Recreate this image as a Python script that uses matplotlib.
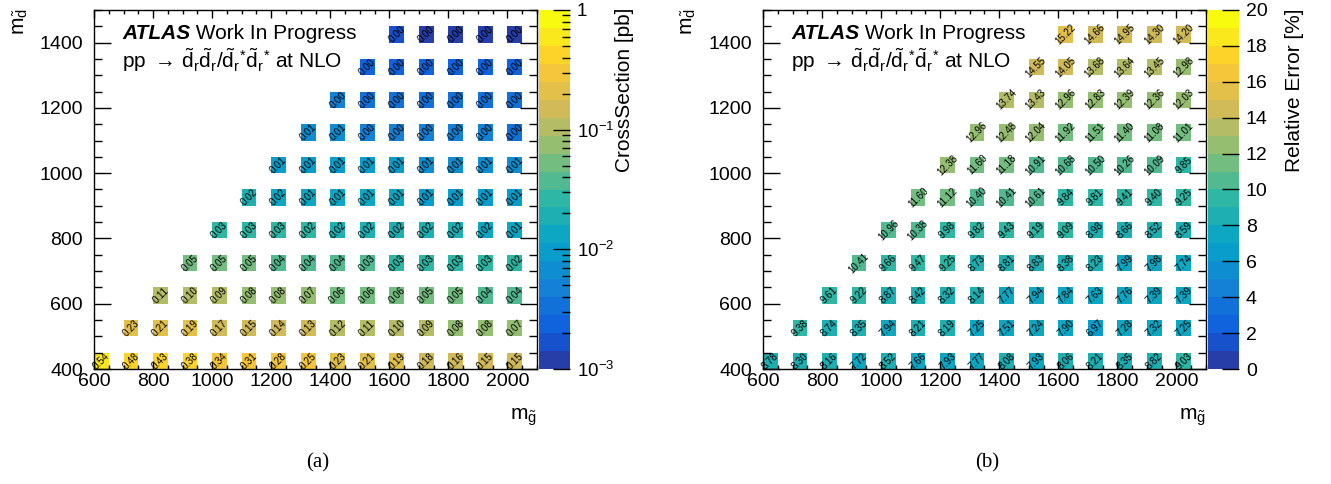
import numpy as np
import matplotlib
matplotlib.use("Agg")
import matplotlib.pyplot as plt
from matplotlib.colors import LinearSegmentedColormap, ListedColormap, LogNorm, Normalize
from matplotlib.ticker import MultipleLocator, LogLocator, NullFormatter, FixedLocator

plt.rcParams['font.family'] = ['Liberation Sans', 'DejaVu Sans']
plt.rcParams['mathtext.fontset'] = 'custom'
plt.rcParams['mathtext.rm'] = 'Liberation Sans'
plt.rcParams['mathtext.it'] = 'Liberation Sans:italic'
plt.rcParams['mathtext.bf'] = 'Liberation Sans:bold'

# ---------------- data ----------------
gluino_masses = [600, 700, 800, 900, 1000, 1100, 1200, 1300, 1400, 1500, 1600, 1700, 1800, 1900, 2000]
squark_masses = [400, 500, 600, 700, 800, 900, 1000, 1100, 1200, 1300, 1400]

# cross sections [pb]; each row ends at gluino mass 2000
xsec_400 = [0.543, 0.478, 0.428, 0.383, 0.343, 0.308, 0.278, 0.252, 0.229, 0.209, 0.192, 0.177, 0.163, 0.154, 0.146]
xsec_500 = [0.231, 0.208, 0.188, 0.170, 0.154, 0.140, 0.128, 0.117, 0.107, 0.098, 0.091, 0.084, 0.078, 0.072]
xsec_600 = [0.112, 0.101, 0.091, 0.083, 0.076, 0.069, 0.063, 0.058, 0.055, 0.050, 0.046, 0.0425, 0.0395]
xsec_700 = [0.054, 0.049, 0.0465, 0.042, 0.039, 0.036, 0.033, 0.031, 0.029, 0.027, 0.026, 0.024]
xsec_800 = [0.030, 0.028, 0.026, 0.024, 0.022, 0.020, 0.0185, 0.017, 0.016, 0.0155, 0.0145]
xsec_900 = [0.017, 0.0155, 0.0145, 0.0135, 0.0125, 0.0118, 0.011, 0.0104, 0.0098, 0.0093]
xsec_1000 = [0.0105, 0.0098, 0.0092, 0.0087, 0.0082, 0.0077, 0.0073, 0.0070, 0.0066]
xsec_1100 = [0.0065, 0.0058, 0.0049, 0.0046, 0.0044, 0.0042, 0.0040, 0.0038]
xsec_1200 = [0.0042, 0.0039, 0.0036, 0.0034, 0.0032, 0.0030, 0.0029]
xsec_1300 = [0.0027, 0.0025, 0.0023, 0.0022, 0.0021, 0.0020]
xsec_1400 = [0.0015, 0.0014, 0.0013, 0.0013, 0.0012]
xsec_rows = [xsec_400, xsec_500, xsec_600, xsec_700, xsec_800, xsec_900,
             xsec_1000, xsec_1100, xsec_1200, xsec_1300, xsec_1400]

# relative errors [%]
err_400 = [8.78, 8.30, 8.16, 7.72, 8.52, 7.66, 7.93, 7.77, 8.08, 7.93, 8.06, 8.21, 8.35, 8.82, 9.03]
err_500 = [9.38, 8.74, 8.35, 7.94, 8.21, 8.19, 7.25, 7.51, 7.24, 7.90, 6.97, 7.28, 7.32, 7.25]
err_600 = [9.61, 9.22, 8.87, 8.42, 8.32, 8.14, 7.77, 7.94, 7.84, 7.63, 7.76, 7.39, 7.39]
err_700 = [10.41, 9.66, 9.47, 9.25, 8.73, 8.81, 8.83, 8.38, 8.23, 7.99, 7.98, 7.74]
err_800 = [10.96, 10.38, 9.98, 9.82, 9.43, 9.19, 9.09, 8.98, 8.66, 8.52, 8.59]
err_900 = [11.60, 11.12, 10.40, 10.41, 10.61, 9.84, 9.81, 9.41, 9.40, 9.25]
err_1000 = [12.38, 11.60, 11.18, 10.91, 10.68, 10.50, 10.26, 10.09, 9.85]
err_1100 = [12.96, 12.48, 12.04, 11.92, 11.51, 11.40, 11.08, 11.01]
err_1200 = [13.74, 13.43, 12.96, 12.83, 12.39, 12.36, 12.03]
err_1300 = [14.55, 14.05, 13.68, 13.64, 13.45, 12.98]
err_1400 = [15.22, 14.66, 14.95, 14.30, 14.20]
err_rows = [err_400, err_500, err_600, err_700, err_800, err_900,
            err_1000, err_1100, err_1200, err_1300, err_1400]

BIN = 50.0

# ---------------- palette (ROOT kBird, 20 contour levels) ----------------
stops = [0.0, 0.125, 0.25, 0.375, 0.5, 0.625, 0.75, 0.875, 1.0]
red = [0.2082, 0.0592, 0.0780, 0.0232, 0.1802, 0.5301, 0.8186, 0.9956, 0.9764]
green = [0.1664, 0.3599, 0.5041, 0.6419, 0.7178, 0.7492, 0.7328, 0.7862, 0.9832]
blue = [0.5293, 0.8684, 0.8385, 0.7914, 0.6425, 0.4662, 0.3499, 0.1968, 0.0539]
bird = LinearSegmentedColormap.from_list('bird', list(zip(stops, zip(red, green, blue))), N=255)
NLEV = 20
levels_cols = [bird(int((i + 0.99) * 255 / NLEV) / 254.0) for i in range(NLEV)]
cmap20 = ListedColormap(levels_cols)

W, H = 1331, 484
fig = plt.figure(figsize=(W / 100, H / 100), dpi=100)


def fx(px):
    return px / W


def fy(py):
    return 1 - py / H


def build_grid(rows):
    xe = np.arange(600, 2100 + 1, BIN)
    ye = np.arange(400, 1500 + 1, BIN)
    Z = np.full((len(ye) - 1, len(xe) - 1), np.nan)
    for ym, vals in zip(squark_masses, rows):
        start = len(gluino_masses) - len(vals)
        for j, v in enumerate(vals):
            xm = gluino_masses[start + j]
            Z[int((ym - 400) / BIN), int((xm - 600) / BIN)] = v
    return xe, ye, np.ma.masked_invalid(Z)


def panel(left_px, rows, norm, cbar_kind, cbar_label, tag, tag_x):
    top_px, bot_px = 10, 369
    right_px = left_px + 443
    ax = fig.add_axes([fx(left_px), fy(bot_px), fx(right_px - left_px), (bot_px - top_px) / H])
    xe, ye, Z = build_grid(rows)
    mesh = ax.pcolormesh(xe, ye, Z, cmap=cmap20, norm=norm, shading='flat')
    for ym, vals in zip(squark_masses, rows):
        start = len(gluino_masses) - len(vals)
        for j, v in enumerate(vals):
            xm = gluino_masses[start + j]
            ax.text(xm + BIN / 2, ym + BIN / 2, f"{v:.2f}", rotation=45, ha='center', va='center',
                    rotation_mode='anchor', fontsize=7, color='black', zorder=5)
    ax.set_xlim(600, 2100)
    ax.set_ylim(400, 1500)
    ax.xaxis.set_major_locator(MultipleLocator(200))
    ax.xaxis.set_minor_locator(MultipleLocator(50))
    ax.yaxis.set_major_locator(MultipleLocator(200))
    ax.yaxis.set_minor_locator(MultipleLocator(50))
    ax.tick_params(which='both', direction='in', top=True, right=True, labelsize=14, width=1)
    ax.tick_params(axis='x', which='major', length=5.5, pad=3)
    ax.tick_params(axis='x', which='minor', length=3)
    ax.tick_params(axis='y', which='major', length=12, pad=8)
    ax.tick_params(axis='y', which='minor', length=6)
    for s in ax.spines.values():
        s.set_linewidth(1.0)

    # colorbar
    cax = fig.add_axes([fx(right_px + 2), fy(bot_px), fx(31), (bot_px - top_px) / H])
    cb = fig.colorbar(mesh, cax=cax)
    cb.outline.set_visible(False)
    if cbar_kind == 'log':
        cb.set_ticks([1e-3, 1e-2, 1e-1, 1])
        cb.set_ticklabels([r'$10^{-3}$', r'$10^{-2}$', r'$10^{-1}$', '1'])
        cax.yaxis.set_minor_locator(LogLocator(base=10, subs=np.arange(2, 10)))
        cax.yaxis.set_minor_formatter(NullFormatter())
        tl_size = 13.5
    else:
        cb.set_ticks(np.arange(0, 21, 2))
        cax.yaxis.set_minor_locator(FixedLocator([]))
        tl_size = 14
    cax.tick_params(which='major', direction='in', length=12, width=1, labelsize=tl_size, pad=5, right=True, left=False)
    cax.tick_params(which='minor', direction='in', length=6, width=1, right=True, left=False)

    fig.text(fx(right_px + 88), fy(8), cbar_label, rotation=90, ha='center', va='top', fontsize=15)

    # axis titles
    fig.text(fx(left_px - 74), fy(8), r'$\mathrm{m}_{\tilde{\mathrm{d}}}$', rotation=90, ha='center', va='top', fontsize=15)
    fig.text(fx(right_px), fy(417), r'$\mathrm{m}_{\tilde{\mathrm{g}}}$', ha='right', va='center', fontsize=15)

    # ATLAS label
    t1 = ax.text(0.064, 0.919, 'ATLAS', transform=ax.transAxes, fontsize=15, fontweight='bold',
                 fontstyle='italic', ha='left', va='baseline')
    ax.annotate(' Work In Progress', xy=(1, 0), xycoords=t1, fontsize=15, ha='left', va='bottom')
    ax.text(0.064, 0.838,
            r'pp $\rightarrow$ $\!\tilde{\mathrm{d}}_{\mathrm{r}}\tilde{\mathrm{d}}_{\mathrm{r}}/\tilde{\mathrm{d}}_{\mathrm{r}}{}^{*}\tilde{\mathrm{d}}_{\mathrm{r}}{}^{*}$ at NLO',
            transform=ax.transAxes, fontsize=15, ha='left', va='baseline')

    fig.text(fx(tag_x), fy(463), tag, ha='center', va='center', fontsize=15, family='Liberation Serif')
    return ax


panel(94, xsec_rows, LogNorm(1e-3, 1), 'log', 'CrossSection [pb]', '(a)', 318)
panel(763, err_rows, Normalize(0, 20), 'lin', 'Relative Error [%]', '(b)', 987)

fig.savefig('out.png', dpi=100)
